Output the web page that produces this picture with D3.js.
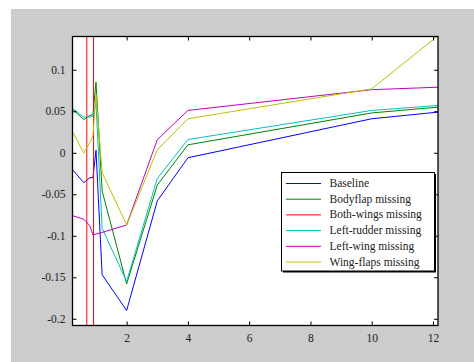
<!DOCTYPE html>
<html>
<head>
<meta charset="utf-8">
<script src="https://cdn.jsdelivr.net/npm/d3@7"></script>
<style>
  html, body { margin: 0; padding: 0; background: #ffffff; }
  svg { display: block; }
</style>
</head>
<body>
<svg id="chart" width="474" height="362"></svg>
<script>
// Sample positions shared by every configuration
const xValues = [0.25, 0.6, 0.8, 0.9, 1.0, 1.2, 2, 3, 4, 10, 12.16];

// Coefficient per configuration
const baseline    = [-0.021, -0.036, -0.030, -0.030, 0.003, -0.147, -0.190, -0.058, -0.006, 0.041, 0.049];
const bodyflap    = [0.052, 0.040, 0.045, 0.046, 0.085, -0.046, -0.158, -0.039, 0.0096, 0.048, 0.055];
const leftRudder  = [0.053, 0.043, 0.043, 0.044, 0.060, -0.091, -0.155, -0.031, 0.016, 0.051, 0.057];
const leftWing    = [-0.076, -0.080, -0.088, -0.099, -0.098, -0.096, -0.087, 0.0157, 0.051, 0.076, 0.079];
const wingFlaps   = [0.0245, -0.0004, 0.012, 0.0205, 0.070, -0.024, -0.087, 0.0036, 0.041, 0.077, 0.141];

// Both-wings case: far off scale, only its steep segments cross the view
const bothWingsX  = [0.7, 0.7, 0.92, 0.92];
const bothWingsY  = [2, -2, -2, 2];

const seriesNames = ["Baseline", "Bodyflap missing", "Both-wings missing", "Left-rudder missing", "Left-wing missing", "Wing-flaps missing"];
const seriesColors = ["#0000ff", "#008000", "#ff0000", "#00bfbf", "#bf00bf", "#bfbf00"];

const xTicks = [2, 4, 6, 8, 10, 12];
const yTicks = [0.1, 0.05, 0, -0.05, -0.1, -0.15, -0.2];
const yTickLabels = ["0.1", "0.05", "0", "-0.05", "-0.1", "-0.15", "-0.2"];

const FONT = '"Liberation Serif", "Times New Roman", Times, "DejaVu Serif", serif';

const series = [
  { name: seriesNames[0], color: seriesColors[0], pts: xValues.map((x, i) => [x, baseline[i]]) },
  { name: seriesNames[1], color: seriesColors[1], pts: xValues.map((x, i) => [x, bodyflap[i]]) },
  { name: seriesNames[2], color: seriesColors[2], pts: bothWingsX.map((x, i) => [x, bothWingsY[i]]) },
  { name: seriesNames[3], color: seriesColors[3], pts: xValues.map((x, i) => [x, leftRudder[i]]) },
  { name: seriesNames[4], color: seriesColors[4], pts: xValues.map((x, i) => [x, leftWing[i]]) },
  { name: seriesNames[5], color: seriesColors[5], pts: xValues.map((x, i) => [x, wingFlaps[i]]) }
];

const svg = d3.select("#chart");

// Figure background
svg.append("rect").attr("x", 11).attr("y", 9).attr("width", 463).attr("height", 353).attr("fill", "#cccccc");

const plot = { left: 72.5, top: 36.5, right: 438, bottom: 325.5 };

const x = d3.scaleLinear().domain([0.233, 12.163]).range([plot.left, plot.right]);
const y = d3.scaleLinear().domain([-0.2081, 0.1401]).range([plot.bottom, plot.top]);

svg.append("rect")
  .attr("x", plot.left).attr("y", plot.top)
  .attr("width", plot.right - plot.left).attr("height", plot.bottom - plot.top)
  .attr("fill", "#ffffff");

svg.append("defs").append("clipPath").attr("id", "plotclip")
  .append("rect")
  .attr("x", plot.left).attr("y", plot.top)
  .attr("width", plot.right - plot.left).attr("height", plot.bottom - plot.top);

const line = d3.line().x(d => x(d[0])).y(d => y(d[1]));

const lines = svg.append("g").attr("clip-path", "url(#plotclip)");
series.forEach(s => {
  lines.append("path")
    .attr("d", line(s.pts))
    .attr("fill", "none")
    .attr("stroke", s.color)
    .attr("stroke-width", 1);
});

// Axes: inward ticks on all four sides
const tickLen = 4;
const bottomAxis = d3.axisBottom(x).tickValues(xTicks).tickSizeInner(-tickLen).tickSizeOuter(0).tickPadding(8).tickFormat(d3.format("d"));
const topAxis = d3.axisTop(x).tickValues(xTicks).tickSizeInner(-tickLen).tickSizeOuter(0).tickFormat("");
const leftAxis = d3.axisLeft(y).tickValues(yTicks).tickSizeInner(-tickLen).tickSizeOuter(0).tickPadding(7)
  .tickFormat((d, i) => yTickLabels[i]);
const rightAxis = d3.axisRight(y).tickValues(yTicks).tickSizeInner(-tickLen).tickSizeOuter(0).tickFormat("");

function styleAxis(g) {
  g.attr("font-family", FONT);
  g.select(".domain").remove();
  g.selectAll(".tick line").attr("stroke", "#000").attr("stroke-width", 1);
  g.selectAll(".tick text").attr("font-size", 11.5).attr("fill", "#222").attr("font-family", FONT);
}

svg.append("g").attr("transform", `translate(0,${plot.bottom})`).call(bottomAxis).call(styleAxis);
svg.append("g").attr("transform", `translate(0,${plot.top})`).call(topAxis).call(styleAxis);
svg.append("g").attr("transform", `translate(${plot.left},0)`).call(leftAxis).call(styleAxis);
svg.append("g").attr("transform", `translate(${plot.right},0)`).call(rightAxis).call(styleAxis);

// Axes box
svg.append("rect")
  .attr("x", plot.left).attr("y", plot.top)
  .attr("width", plot.right - plot.left).attr("height", plot.bottom - plot.top)
  .attr("fill", "none").attr("stroke", "#000").attr("stroke-width", 1.3);

// Legend
const lg = { left: 281.5, top: 172.5, width: 153, height: 98.5 };
const legend = svg.append("g").attr("font-family", FONT);
legend.append("rect")
  .attr("x", lg.left + 1.5).attr("y", lg.top + 1.5)
  .attr("width", lg.width).attr("height", lg.height)
  .attr("fill", "#000");
legend.append("rect")
  .attr("x", lg.left).attr("y", lg.top)
  .attr("width", lg.width).attr("height", lg.height)
  .attr("fill", "#ffffff").attr("stroke", "#000").attr("stroke-width", 1);

const rowY = d3.scaleLinear().domain([0, seriesNames.length - 1]).range([lg.top + 11, lg.top + 89.5]);
series.forEach((s, i) => {
  const yy = rowY(i);
  legend.append("line")
    .attr("x1", lg.left + 4.5).attr("x2", lg.left + 39.5)
    .attr("y1", yy).attr("y2", yy)
    .attr("stroke", s.color).attr("stroke-width", 1);
  legend.append("text")
    .attr("x", lg.left + 48).attr("y", yy + 3.5)
    .attr("font-size", 11.5)
    .attr("font-family", FONT)
    .attr("fill", "#222")
    .text(s.name);
});
</script>
</body>
</html>
